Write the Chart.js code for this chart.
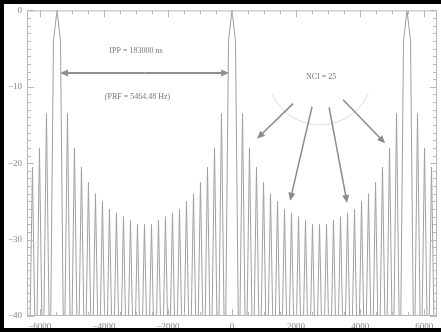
<!DOCTYPE html>
<html>
<head>
<meta charset="utf-8">
<script src="https://cdn.jsdelivr.net/npm/chart.js@4"></script>
<style>
body { margin: 0; background: #fff; }
#wrap { position: relative; width: 441px; height: 332px; overflow: hidden; }
.edge { position: absolute; background: #000; }
</style>
</head>
<body>
<div id="wrap">
  <canvas id="specChart" width="441" height="332"></canvas>
  <div class="edge" style="left:0;top:0;width:4px;height:332px"></div>
  <div class="edge" style="left:0;top:0;width:441px;height:4px"></div>
  <div class="edge" style="left:0;top:328px;width:441px;height:4px"></div>
</div>
<script>
// deep nulls go below the -40 dB floor of the plot
const nul = -50;

// doppler frequency (Hz) of each lobe peak / null
const freqs = [
  -6448, -6339, -6230, -6120, -6011, -5902, -5792, -5683, -5574, -5464,
  -5355, -5246, -5137, -5027, -4918, -4809, -4699, -4590, -4481, -4372,
  -4262, -4153, -4044, -3934, -3825, -3716, -3607, -3497, -3388, -3279,
  -3169, -3060, -2951, -2842, -2732, -2623, -2514, -2404, -2295, -2186,
  -2077, -1967, -1858, -1749, -1639, -1530, -1421, -1312, -1202, -1093,
  -984, -874, -765, -656, -546, -437, -328, -219, -109,
  0,
  109, 219, 328, 437, 546, 656, 765, 874, 984, 1093,
  1202, 1312, 1421, 1530, 1639, 1749, 1858, 1967, 2077, 2186,
  2295, 2404, 2514, 2623, 2732, 2842, 2951, 3060, 3169, 3279,
  3388, 3497, 3607, 3716, 3825, 3934, 4044, 4153, 4262, 4372,
  4481, 4590, 4699, 4809, 4918, 5027, 5137, 5246, 5355, 5464,
  5574, 5683, 5792, 5902, 6011, 6120, 6230, 6339, 6448
];

// level in dB at each of those frequencies
const levels = [
  -22.5, nul, -20.5, nul, -18, nul, -13.5, nul, -4, 0,
  -4, nul, -13.5, nul, -18, nul, -20.5, nul, -22.5, nul,
  -24, nul, -25, nul, -26, nul, -26.5, nul, -27, nul,
  -27.5, nul, -28, nul, -28, nul, -28, nul, -27.5, nul,
  -27, nul, -26.5, nul, -26, nul, -25, nul, -24, nul,
  -22.5, nul, -20.5, nul, -18, nul, -13.5, nul, -4,
  0,
  -4, nul, -13.5, nul, -18, nul, -20.5, nul, -22.5, nul,
  -24, nul, -25, nul, -26, nul, -26.5, nul, -27, nul,
  -27.5, nul, -28, nul, -28, nul, -28, nul, -27.5, nul,
  -27, nul, -26.5, nul, -26, nul, -25, nul, -24, nul,
  -22.5, nul, -20.5, nul, -18, nul, -13.5, nul, -4, 0,
  -4, nul, -13.5, nul, -18, nul, -20.5, nul, -22.5
];

const xTicks = [-6000, -4000, -2000, 0, 2000, 4000, 6000];
const xTickLabels = ['\u22126000', '\u22124000', '\u22122000', '0', '2000', '4000', '6000'];
const yTicks = [0, -10, -20, -30, -40];
const yTickLabels = ['0', '\u221210', '\u221220', '\u221230', '\u221240'];
const xMinorStep = 500;
const yMinorStep = 1;

const ippText = 'IPP = 183000 ns';
const prfText = '(PRF = 5464.48 Hz)';
const nciText = 'NCI = 25';

const serif = '"Liberation Serif", "DejaVu Serif", serif';
const lineGray = '#a0a0a0';
const inkGray = '#777';

function arrow(ctx, x1, y1, x2, y2, head, color, width) {
  const a = Math.atan2(y2 - y1, x2 - x1);
  ctx.strokeStyle = color;
  ctx.fillStyle = color;
  ctx.lineWidth = width;
  ctx.beginPath();
  ctx.moveTo(x1, y1);
  ctx.lineTo(x2 - Math.cos(a) * head * 0.8, y2 - Math.sin(a) * head * 0.8);
  ctx.stroke();
  ctx.beginPath();
  ctx.moveTo(x2, y2);
  ctx.lineTo(x2 - head * Math.cos(a) + 3.5 * Math.sin(a), y2 - head * Math.sin(a) - 3.5 * Math.cos(a));
  ctx.lineTo(x2 - head * Math.cos(a) - 3.5 * Math.sin(a), y2 - head * Math.sin(a) + 3.5 * Math.cos(a));
  ctx.closePath();
  ctx.fill();
}

const idlFrame = {
  id: 'idlFrame',
  afterDatasetsDraw(chart) {
    const ctx = chart.ctx;
    const xs = chart.scales.x, ys = chart.scales.y;
    const area = chart.chartArea;
    ctx.save();

    // plot box with inward ticks on all four sides
    ctx.strokeStyle = '#b8b8b8';
    ctx.lineWidth = 1;
    ctx.strokeRect(area.left + 0.5, area.top + 0.5, area.right - area.left - 1, area.bottom - area.top - 1);
    ctx.beginPath();
    for (let v = -6000; v <= 6000; v += xMinorStep) {
      const px = Math.round(xs.getPixelForValue(v)) + 0.5;
      const len = xTicks.includes(v) ? 7 : 4;
      ctx.moveTo(px, area.bottom); ctx.lineTo(px, area.bottom - len);
      ctx.moveTo(px, area.top); ctx.lineTo(px, area.top + len);
    }
    for (let v = -40; v <= 0; v += yMinorStep) {
      const py = Math.round(ys.getPixelForValue(v)) + 0.5;
      const len = yTicks.includes(v) ? 7 : 4;
      ctx.moveTo(area.left, py); ctx.lineTo(area.left + len, py);
      ctx.moveTo(area.right, py); ctx.lineTo(area.right - len, py);
    }
    ctx.stroke();

    // IPP double arrow between the two main lobes
    const yArr = ys.getPixelForValue(-8.2);
    const xa = xs.getPixelForValue(-5370), xb = xs.getPixelForValue(-90);
    arrow(ctx, (xa + xb) / 2, yArr, xa, yArr, 8, '#909090', 2);
    arrow(ctx, (xa + xb) / 2, yArr, xb, yArr, 8, '#909090', 2);

    ctx.fillStyle = inkGray;
    ctx.font = '8px ' + serif;
    ctx.textAlign = 'center';
    ctx.textBaseline = 'middle';
    ctx.fillText(ippText, xs.getPixelForValue(-3000), ys.getPixelForValue(-5.3));
    ctx.fillText(prfText, xs.getPixelForValue(-2950), ys.getPixelForValue(-11.3));
    ctx.fillText(nciText, xs.getPixelForValue(2780), ys.getPixelForValue(-8.7));

    // faint arc under the NCI label
    ctx.strokeStyle = '#dedede';
    ctx.lineWidth = 1;
    ctx.beginPath();
    ctx.arc(xs.getPixelForValue(2750), ys.getPixelForValue(-8.05), 53, 25 * Math.PI / 180, 155 * Math.PI / 180);
    ctx.stroke();

    // arrows pointing at the sidelobes
    const pts = [
      [1906, -12.2, 781, -16.8],
      [2500, -12.6, 1812, -24.9],
      [3031, -12.7, 3594, -25.2],
      [3469, -11.7, 4781, -17.4]
    ];
    pts.forEach(p => {
      arrow(ctx, xs.getPixelForValue(p[0]), ys.getPixelForValue(p[1]),
        xs.getPixelForValue(p[2]), ys.getPixelForValue(p[3]), 8, '#8a8a8a', 1.5);
    });
    ctx.restore();
  }
};

new Chart('specChart', {
  type: 'line',
  data: {
    datasets: [{
      data: freqs.map((f, i) => ({ x: f, y: levels[i] })),
      borderColor: lineGray,
      borderWidth: 1,
      pointRadius: 0,
      tension: 0,
      fill: false
    }]
  },
  options: {
    responsive: false,
    animation: false,
    devicePixelRatio: 1,
    layout: { padding: { top: 7, right: 4, left: 0, bottom: 0 } },
    plugins: { legend: { display: false }, tooltip: { enabled: false } },
    scales: {
      x: {
        type: 'linear',
        min: -6400,
        max: 6400,
        afterBuildTicks: s => { s.ticks = xTicks.map(v => ({ value: v })); },
        afterFit: s => { s.height = 16; },
        ticks: {
          callback: (v, i) => xTickLabels[i],
          padding: 5,
          maxRotation: 0,
          autoSkip: false,
          color: '#858585',
          font: { family: serif, size: 9 }
        },
        grid: { display: false, drawTicks: false },
        border: { display: false }
      },
      y: {
        min: -40,
        max: 0,
        afterBuildTicks: s => { s.ticks = yTicks.map(v => ({ value: v })); },
        afterFit: s => { s.width = 27; },
        ticks: {
          callback: (v, i) => yTickLabels[i],
          padding: 5,
          autoSkip: false,
          color: '#858585',
          font: { family: serif, size: 9 }
        },
        grid: { display: false, drawTicks: false },
        border: { display: false }
      }
    }
  },
  plugins: [idlFrame]
});
</script>
</body>
</html>
